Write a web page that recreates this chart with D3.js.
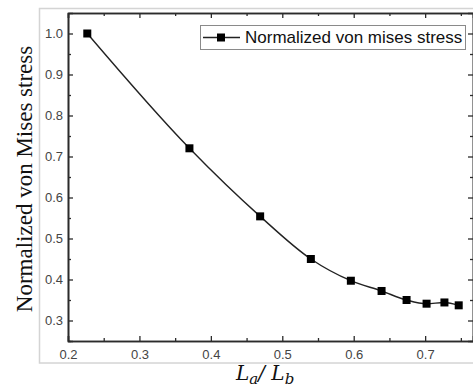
<!DOCTYPE html>
<html>
<head>
<meta charset="utf-8">
<script src="https://cdn.jsdelivr.net/npm/d3@7"></script>
<style>
  body { margin: 0; background: #fff; }
  svg { display: block; }
</style>
</head>
<body>
<div id="chart"></div>
<script>
// values
const ratio = [0.227, 0.370, 0.469, 0.540, 0.596, 0.639, 0.674, 0.702, 0.727, 0.747];
const stress = [1.000, 0.720, 0.554, 0.450, 0.397, 0.372, 0.350, 0.341, 0.344, 0.337];
const xTicks = [0.2, 0.3, 0.4, 0.5, 0.6, 0.7];
const yTicks = [0.3, 0.4, 0.5, 0.6, 0.7, 0.8, 0.9, 1.0];
const seriesName = "Normalized von mises stress";

const width = 473, height = 389;
const margin = { top: 13, right: 0, bottom: 48, left: 68 };
const w = width - margin.left - margin.right;
const h = height - margin.top - margin.bottom;

const svg = d3.select("#chart").append("svg")
    .attr("width", width)
    .attr("height", height);

// light outer frame
svg.append("rect")
    .attr("x", 39.5).attr("y", 8.5)
    .attr("width", 460).attr("height", 354.5)
    .attr("fill", "none")
    .attr("stroke", "#d4d4d4")
    .attr("stroke-width", 1.5);

const g = svg.append("g")
    .attr("transform", `translate(${margin.left},${margin.top})`);

const x = d3.scaleLinear().domain([0.2, 0.767]).range([0, w]);
const y = d3.scaleLinear().domain([0.25, 1.05]).range([h, 0]);

const xMinor = d3.range(0.25, 0.76, 0.1);
const yMinor = d3.range(0.25, 1.05, 0.1);

function styleAxis(sel) {
    sel.select(".domain").attr("stroke", "#2b2b2b").attr("stroke-width", 1.6);
    sel.selectAll(".tick line").attr("stroke", "#2b2b2b").attr("stroke-width", 1.3);
    sel.selectAll("text")
        .attr("fill", "#444")
        .style("font-family", "'Liberation Sans', Arial, sans-serif")
        .style("font-size", "13px");
}

// bottom
g.append("g").attr("transform", `translate(0,${h})`)
    .call(d3.axisBottom(x).tickValues(xTicks).tickFormat(d3.format(".1f")).tickSize(-5).tickPadding(9))
    .call(styleAxis);
g.append("g").attr("transform", `translate(0,${h})`)
    .call(d3.axisBottom(x).tickValues(xMinor).tickFormat("").tickSize(-3).tickSizeOuter(0))
    .call(styleAxis);
// top
g.append("g")
    .call(d3.axisTop(x).tickValues(xTicks).tickFormat("").tickSize(-5))
    .call(styleAxis);
g.append("g")
    .call(d3.axisTop(x).tickValues(xMinor).tickFormat("").tickSize(-3).tickSizeOuter(0))
    .call(styleAxis);
// left
g.append("g")
    .call(d3.axisLeft(y).tickValues(yTicks).tickFormat(d3.format(".1f")).tickSize(-5).tickPadding(5))
    .call(styleAxis);
g.append("g")
    .call(d3.axisLeft(y).tickValues(yMinor).tickFormat("").tickSize(-3).tickSizeOuter(0))
    .call(styleAxis);
// right
g.append("g").attr("transform", `translate(${w},0)`)
    .call(d3.axisRight(y).tickValues(yTicks).tickFormat("").tickSize(-5))
    .call(styleAxis);
g.append("g").attr("transform", `translate(${w},0)`)
    .call(d3.axisRight(y).tickValues(yMinor).tickFormat("").tickSize(-3).tickSizeOuter(0))
    .call(styleAxis);

const data = ratio.map((r, i) => ({ r, s: stress[i] }));

const line = d3.line()
    .x(d => x(d.r))
    .y(d => y(d.s))
    .curve(d3.curveMonotoneX);

g.append("path")
    .datum(data)
    .attr("fill", "none")
    .attr("stroke", "#222")
    .attr("stroke-width", 1.4)
    .attr("d", line);

const ms = 8;
g.selectAll(".pt")
    .data(data)
    .enter()
    .append("rect")
    .attr("class", "pt")
    .attr("x", d => x(d.r) - ms / 2)
    .attr("y", d => y(d.s) - ms / 2)
    .attr("width", ms)
    .attr("height", ms)
    .attr("fill", "#000");

// legend
const legend = svg.append("g").attr("transform", "translate(200,25)");
legend.append("rect")
    .attr("x", 0.5).attr("y", 0.5)
    .attr("width", 265).attr("height", 24)
    .attr("fill", "#fff")
    .attr("stroke", "#8a8a8a");
legend.append("line")
    .attr("x1", 3).attr("x2", 40)
    .attr("y1", 12.5).attr("y2", 12.5)
    .attr("stroke", "#222").attr("stroke-width", 1.4);
legend.append("rect")
    .attr("x", 21 - ms / 2).attr("y", 12.5 - ms / 2)
    .attr("width", ms).attr("height", ms)
    .attr("fill", "#000");
legend.append("text")
    .attr("x", 45).attr("y", 18)
    .style("font-family", "'Liberation Sans', Arial, sans-serif")
    .style("font-size", "17px")
    .attr("fill", "#111")
    .text(seriesName);

// axis titles
svg.append("text")
    .attr("transform", "translate(32,179) rotate(-90)")
    .attr("text-anchor", "middle")
    .style("font-family", "'Liberation Serif', 'Times New Roman', serif")
    .style("font-size", "23px")
    .attr("fill", "#111")
    .text("Normalized von Mises stress");

const xt = svg.append("text")
    .attr("x", 236).attr("y", 380)
    .style("font-family", "'DejaVu Serif', serif")
    .style("font-style", "italic")
    .style("font-size", "20px")
    .attr("fill", "#111");
xt.append("tspan").text("L");
xt.append("tspan").attr("dy", 4).style("font-size", "15px").text("a");
xt.append("tspan").attr("dy", -4).text("/ L");
xt.append("tspan").attr("dy", 4).style("font-size", "15px").text("b");
</script>
</body>
</html>
